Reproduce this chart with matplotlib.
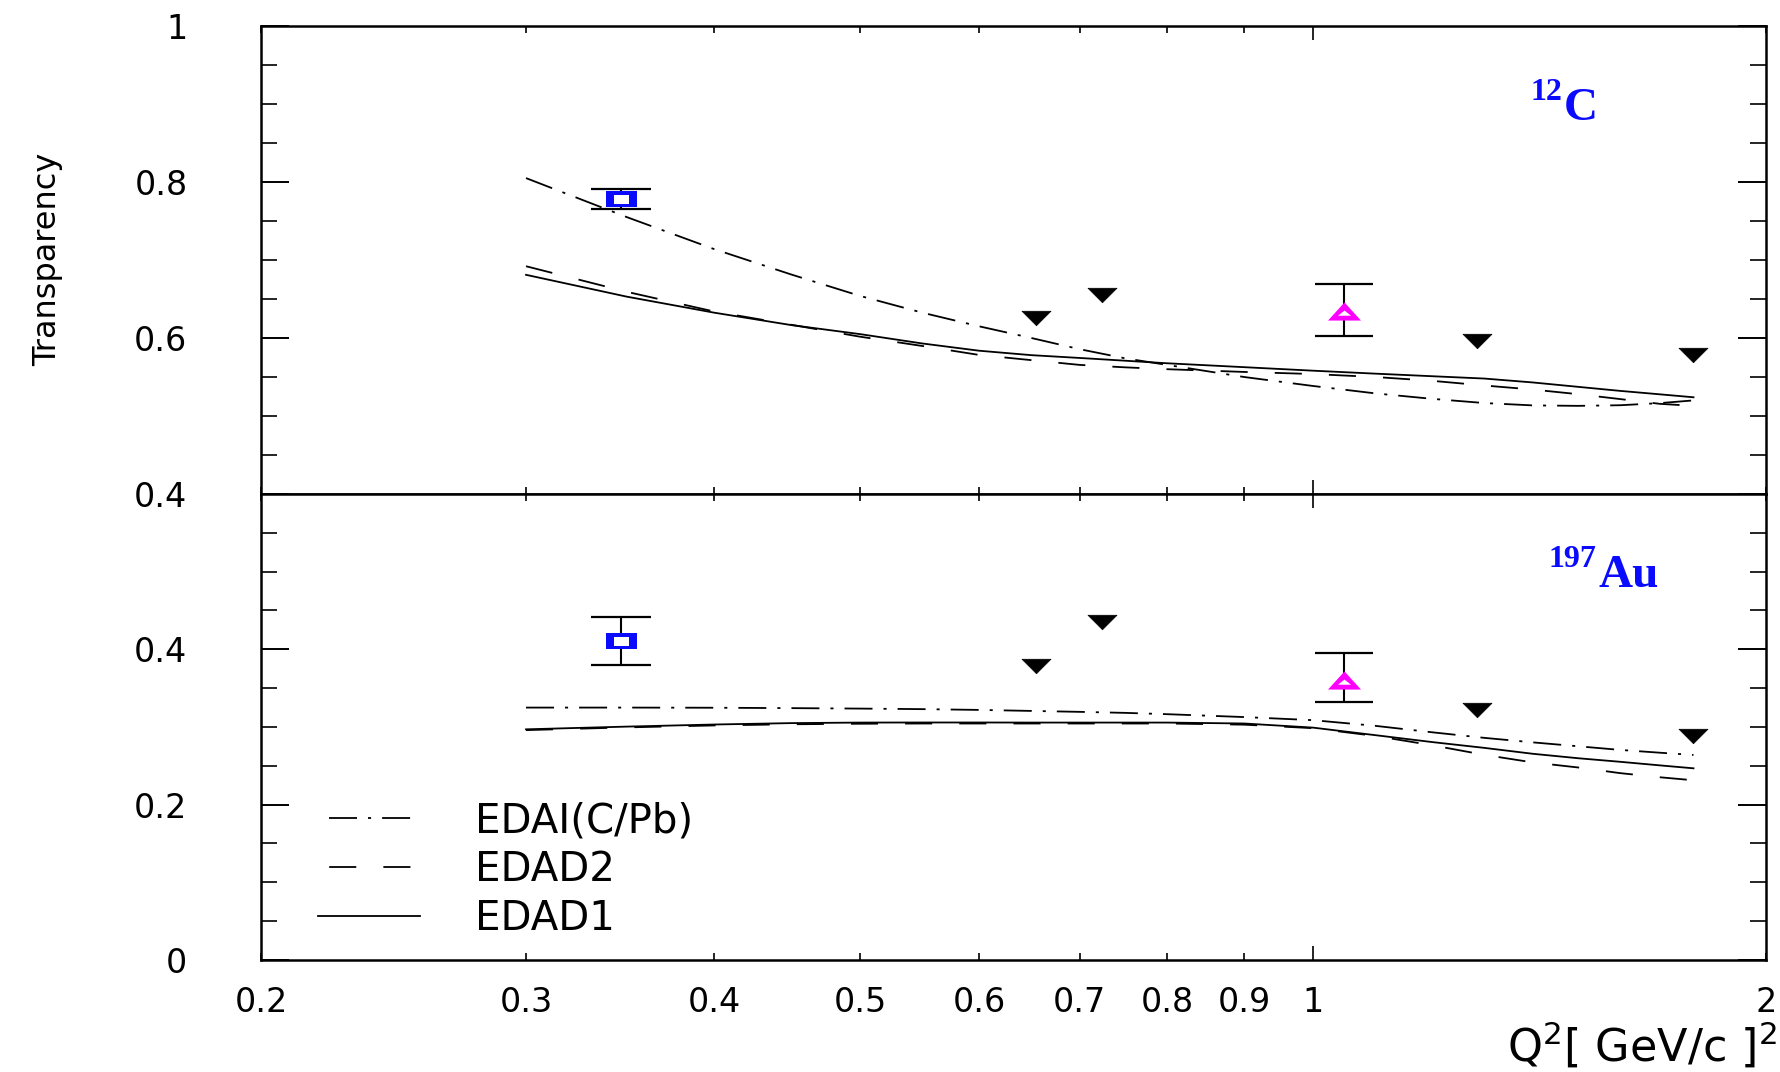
import numpy as np
import matplotlib
matplotlib.use('Agg')
import matplotlib.pyplot as plt
from matplotlib.path import Path
from matplotlib.lines import Line2D
from matplotlib.ticker import FixedLocator, FixedFormatter

plt.rcParams['font.family'] = ['DejaVu Sans']
plt.rcParams['mathtext.fontset'] = 'dejavusans'

# ---------------- data ----------------
q2_curve = [0.30, 0.35, 0.40, 0.45, 0.50, 0.55, 0.60, 0.65, 0.70, 0.75, 0.80,
            0.90, 1.00, 1.10, 1.20, 1.30, 1.40, 1.50, 1.60, 1.70, 1.79]

c_edai = [0.805, 0.755, 0.714, 0.6815, 0.654, 0.6325, 0.615, 0.600, 0.5856, 0.574, 0.5655,
          0.550, 0.5385, 0.529, 0.522, 0.5166, 0.5136, 0.513, 0.5138, 0.5165, 0.520]
c_edad2 = [0.692, 0.6592, 0.634, 0.617, 0.6017, 0.5898, 0.5783, 0.5716, 0.5655, 0.5624, 0.560,
           0.5565, 0.5538, 0.550, 0.5451, 0.5391, 0.5339, 0.528, 0.5217, 0.5156, 0.513]
c_edad1 = [0.681, 0.653, 0.6325, 0.6166, 0.605, 0.593, 0.5837, 0.578, 0.5744, 0.5709, 0.5676,
           0.5626, 0.5581, 0.5543, 0.551, 0.548, 0.543, 0.5374, 0.5322, 0.5278, 0.524]

au_edai = [0.325, 0.325, 0.3248, 0.3243, 0.3237, 0.323, 0.322, 0.3207, 0.3195, 0.3182, 0.3165,
           0.3128, 0.3088, 0.3015, 0.2932, 0.286, 0.2802, 0.2752, 0.2705, 0.2669, 0.264]
au_edad2 = [0.296, 0.2995, 0.302, 0.3035, 0.3042, 0.3045, 0.3045, 0.3045, 0.3045, 0.3045, 0.3045,
            0.303, 0.2985, 0.2885, 0.2765, 0.2641, 0.2544, 0.2479, 0.2406, 0.2353, 0.2314]
au_edad1 = [0.297, 0.3005, 0.3032, 0.305, 0.3057, 0.3058, 0.3058, 0.3057, 0.3057, 0.3057, 0.3057,
            0.3045, 0.2992, 0.2895, 0.2806, 0.2731, 0.2655, 0.2598, 0.2552, 0.2506, 0.2468]

# open blue square
sq_q2 = [0.347]
sq_c = [0.778]
sq_c_err = [0.013]
sq_au = [0.411]
sq_au_err = [0.031]

# filled down triangles
tri_q2 = [0.655, 0.724, 1.285, 1.79]
tri_c = [0.625, 0.655, 0.596, 0.578]
tri_au = [0.379, 0.435, 0.322, 0.288]

# open magenta triangle
mag_q2 = [1.048]
mag_c = [0.634]
mag_c_lo = [0.031]
mag_c_hi = [0.035]
mag_au = [0.3605]
mag_au_lo = [0.028]
mag_au_hi = [0.0345]

legend_labels = ['EDAI(C/Pb)', 'EDAD2', 'EDAD1']
x_minor_ticks = [0.2, 0.3, 0.4, 0.5, 0.6, 0.7, 0.8, 0.9, 2]
x_minor_labels = ['0.2', '0.3', '0.4', '0.5', '0.6', '0.7', '0.8', '0.9', '2']
x_major_ticks = [1]
x_major_labels = ['1']
top_yticks = [0.4, 0.6, 0.8, 1.0]
top_ylabels = ['0.4', '0.6', '0.8', '1']
bot_yticks = [0.0, 0.2, 0.4, 0.6]
bot_ylabels = ['0', '0.2', '0.4', '']

# ---------------- styles ----------------
LW = 1.3
LS_DASHDOT = (0, (15.5, 6.1, 1.7, 6.1))
LS_DASH = (0, (15, 15))
BLUE = '#0a0aff'
MAG = '#ff00ff'
PX = 0.72  # points per pixel at dpi 100


def closed(verts):
    codes = [Path.MOVETO] + [Path.LINETO] * (len(verts) - 1) + [Path.CLOSEPOLY]
    return Path(list(verts) + [verts[0]], codes)


box_outer = closed([(-1, -0.52), (1, -0.52), (1, 0.52), (-1, 0.52)])
box_inner = closed([(-1, -0.6), (1, -0.6), (1, 0.6), (-1, 0.6)])
down_marker = closed([(-1, 0.5), (1, 0.5), (0, -0.5)])
up_outer = closed([(-1, -0.55), (1, -0.55), (0, 0.55)])
up_inner = closed([(-1, -0.65), (1, -0.65), (0, 0.15)])

fig = plt.figure(figsize=(17.81, 10.72), dpi=100)
ax_top = fig.add_axes([0.14655, 0.53918, 0.84503, 0.43657])
ax_bot = fig.add_axes([0.14655, 0.10448, 0.84503, 0.43470], sharex=ax_top)


def draw_panel(ax, edai, edad2, edad1, sq, sq_err, tri, mag, mag_lo, mag_hi):
    ax.plot(q2_curve, edai, color='black', lw=LW, ls=LS_DASHDOT)
    ax.plot(q2_curve, edad2, color='black', lw=LW, ls=LS_DASH)
    ax.plot(q2_curve, edad1, color='black', lw=LW, ls='-')
    ax.errorbar(sq_q2, sq, yerr=sq_err, fmt='none', ecolor='black',
                elinewidth=1.5, capsize=30 * PX, capthick=1.6, zorder=4)
    ax.plot(sq_q2, sq, ls='none', marker=box_outer, markersize=31 * PX,
            markerfacecolor=BLUE, markeredgewidth=0, zorder=5)
    ax.plot(sq_q2, sq, ls='none', marker=box_inner, markersize=15 * PX,
            markerfacecolor='white', markeredgewidth=0, zorder=6)
    ax.plot(tri_q2, tri, ls='none', marker=down_marker, markersize=29 * PX,
            markerfacecolor='black', markeredgecolor='black', markeredgewidth=0.5, zorder=5)
    ax.errorbar(mag_q2, mag, yerr=[mag_lo, mag_hi], fmt='none', ecolor='black',
                elinewidth=1.5, capsize=29 * PX, capthick=1.6, zorder=4)
    ax.plot(mag_q2, mag, ls='none', marker=up_outer, markersize=33 * PX,
            markerfacecolor=MAG, markeredgewidth=0, zorder=5)
    ax.plot(mag_q2, mag, ls='none', marker=up_inner, markersize=13 * PX,
            markerfacecolor='white', markeredgewidth=0, zorder=6)


draw_panel(ax_top, c_edai, c_edad2, c_edad1, sq_c, sq_c_err, tri_c,
           mag_c, mag_c_lo, mag_c_hi)
draw_panel(ax_bot, au_edai, au_edad2, au_edad1, sq_au, sq_au_err, tri_au,
           mag_au, mag_au_lo, mag_au_hi)

for ax in (ax_top, ax_bot):
    ax.set_xscale('log')
    ax.set_xlim(0.2, 2.0)
    ax.xaxis.set_major_locator(FixedLocator(x_major_ticks))
    ax.xaxis.set_major_formatter(FixedFormatter(x_major_labels))
    ax.xaxis.set_minor_locator(FixedLocator(x_minor_ticks))
    ax.xaxis.set_minor_formatter(FixedFormatter(x_minor_labels))
    ax.yaxis.set_minor_locator(FixedLocator(np.arange(0.0, 1.0001, 0.05)))
    ax.tick_params(axis='x', which='major', direction='in', top=True, bottom=True,
                   length=10, width=1.2, labelsize=24, pad=19)
    ax.tick_params(axis='x', which='minor', direction='in', top=True, bottom=True,
                   length=5, width=1.2, labelsize=24, pad=19)
    ax.tick_params(axis='y', which='major', direction='in', left=True, right=True,
                   length=20, width=1.4, labelsize=24, pad=53)
    ax.tick_params(axis='y', which='minor', direction='in', left=True, right=True,
                   length=11.5, width=1.2)
    for sp in ax.spines.values():
        sp.set_linewidth(1.8)

ax_top.set_ylim(0.4, 1.0)
ax_top.yaxis.set_major_locator(FixedLocator(top_yticks))
ax_top.yaxis.set_major_formatter(FixedFormatter(top_ylabels))
ax_top.tick_params(axis='x', which='both', labelbottom=False)

ax_bot.set_ylim(0.0, 0.6)
ax_bot.yaxis.set_major_locator(FixedLocator(bot_yticks))
ax_bot.yaxis.set_major_formatter(FixedFormatter(bot_ylabels))

# nucleus labels
serif = ['Liberation Serif', 'DejaVu Serif']
ax_top.text(0.8432, 0.842, '12', transform=ax_top.transAxes, color=BLUE,
            fontsize=23, fontweight='bold', family=serif, va='baseline', ha='left')
ax_top.text(0.8658, 0.799, 'C', transform=ax_top.transAxes, color=BLUE,
            fontsize=34, fontweight='bold', family=serif, va='baseline', ha='left')
ax_bot.text(0.8558, 0.843, '197', transform=ax_bot.transAxes, color=BLUE,
            fontsize=23, fontweight='bold', family=serif, va='baseline', ha='left')
ax_bot.text(0.8884, 0.800, 'Au', transform=ax_bot.transAxes, color=BLUE,
            fontsize=34, fontweight='bold', family=serif, va='baseline', ha='left')

# legend
handles = [
    Line2D([], [], color='black', lw=LW, ls=(23.3, (15.5, 6.1, 1.7, 6.1))),
    Line2D([], [], color='black', lw=LW, ls=(23.8, (15, 15))),
    Line2D([], [], color='black', lw=LW, ls='-'),
]
ax_bot.legend(handles, legend_labels, loc='center left',
              bbox_to_anchor=(318 / 1781, 1 - 870 / 1072), bbox_transform=fig.transFigure,
              frameon=False, fontsize=29, handlelength=2.53, handletextpad=1.37,
              labelspacing=0.22, borderpad=0, borderaxespad=0)

fig.text(0.027, 0.758, 'Transparency', rotation=90, ha='center', va='center', fontsize=23)
fig.text(0.998, 0.025, r'Q$^{2}$[ GeV/c ]$^{2}$', ha='right', va='center', fontsize=32)

fig.savefig('out.png', dpi=100)
